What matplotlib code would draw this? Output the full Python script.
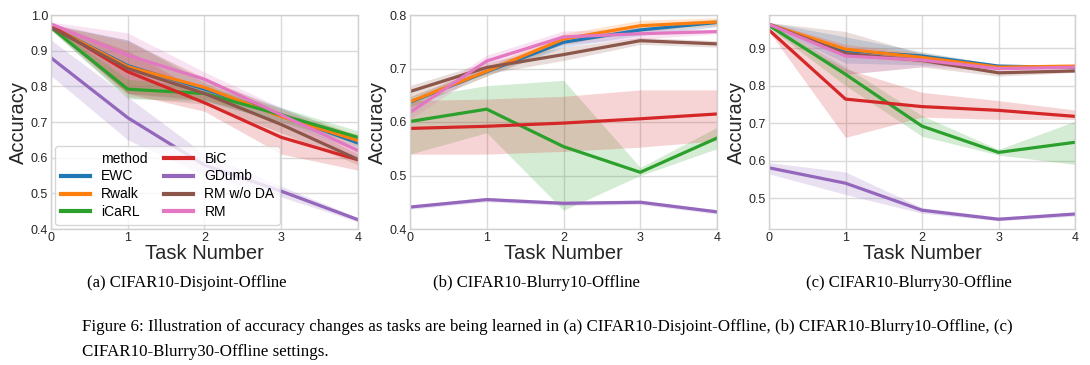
import matplotlib
matplotlib.use("Agg")
import matplotlib.pyplot as plt
from matplotlib.lines import Line2D
import numpy as np

tasks = [0, 1, 2, 3, 4]
methods = ["EWC", "Rwalk", "iCaRL", "BiC", "GDumb", "RM w/o DA", "RM"]
colors = ["#1f77b4", "#ff7f0e", "#2ca02c", "#d62728", "#9467bd", "#8c564b", "#e377c2"]

# (a) CIFAR10-Disjoint-Offline : mean, lower, upper per method
a_mean = {
    "EWC":       [0.968, 0.858, 0.792, 0.720, 0.641],
    "Rwalk":     [0.968, 0.855, 0.797, 0.715, 0.648],
    "iCaRL":     [0.965, 0.792, 0.780, 0.720, 0.657],
    "BiC":       [0.970, 0.841, 0.754, 0.657, 0.594],
    "GDumb":     [0.880, 0.712, 0.579, 0.506, 0.426],
    "RM w/o DA": [0.965, 0.850, 0.780, 0.693, 0.595],
    "RM":        [0.975, 0.887, 0.820, 0.720, 0.620],
}
a_low = {
    "EWC":       [0.962, 0.780, 0.760, 0.700, 0.620],
    "Rwalk":     [0.962, 0.780, 0.765, 0.700, 0.630],
    "iCaRL":     [0.958, 0.765, 0.760, 0.700, 0.640],
    "BiC":       [0.965, 0.780, 0.730, 0.610, 0.565],
    "GDumb":     [0.830, 0.650, 0.550, 0.490, 0.420],
    "RM w/o DA": [0.958, 0.770, 0.750, 0.670, 0.580],
    "RM":        [0.970, 0.820, 0.790, 0.700, 0.600],
}
a_high = {
    "EWC":       [0.975, 0.930, 0.820, 0.740, 0.660],
    "Rwalk":     [0.975, 0.925, 0.825, 0.735, 0.665],
    "iCaRL":     [0.972, 0.820, 0.800, 0.740, 0.675],
    "BiC":       [0.976, 0.900, 0.780, 0.700, 0.625],
    "GDumb":     [0.930, 0.770, 0.610, 0.520, 0.432],
    "RM w/o DA": [0.972, 0.930, 0.810, 0.720, 0.610],
    "RM":        [0.980, 0.950, 0.840, 0.740, 0.640],
}

# (b) CIFAR10-Blurry10-Offline
b_mean = {
    "EWC":       [0.637, 0.694, 0.749, 0.772, 0.786],
    "Rwalk":     [0.638, 0.695, 0.755, 0.780, 0.787],
    "iCaRL":     [0.601, 0.624, 0.554, 0.506, 0.570],
    "BiC":       [0.588, 0.592, 0.598, 0.606, 0.615],
    "GDumb":     [0.441, 0.455, 0.448, 0.450, 0.432],
    "RM w/o DA": [0.657, 0.702, 0.726, 0.752, 0.746],
    "RM":        [0.618, 0.714, 0.759, 0.765, 0.769],
}
b_low = {
    "EWC":       [0.627, 0.686, 0.740, 0.762, 0.778],
    "Rwalk":     [0.628, 0.686, 0.745, 0.770, 0.780],
    "iCaRL":     [0.540, 0.580, 0.435, 0.500, 0.550],
    "BiC":       [0.540, 0.540, 0.545, 0.553, 0.565],
    "GDumb":     [0.437, 0.451, 0.444, 0.446, 0.428],
    "RM w/o DA": [0.645, 0.690, 0.715, 0.745, 0.740],
    "RM":        [0.605, 0.700, 0.745, 0.755, 0.765],
}
b_high = {
    "EWC":       [0.647, 0.702, 0.758, 0.782, 0.792],
    "Rwalk":     [0.648, 0.704, 0.765, 0.790, 0.795],
    "iCaRL":     [0.645, 0.668, 0.678, 0.515, 0.590],
    "BiC":       [0.640, 0.643, 0.648, 0.660, 0.660],
    "GDumb":     [0.445, 0.459, 0.452, 0.454, 0.436],
    "RM w/o DA": [0.668, 0.712, 0.740, 0.758, 0.752],
    "RM":        [0.630, 0.725, 0.770, 0.775, 0.773],
}

# (c) CIFAR10-Blurry30-Offline
c_mean = {
    "EWC":       [0.963, 0.893, 0.879, 0.852, 0.848],
    "Rwalk":     [0.963, 0.897, 0.875, 0.849, 0.852],
    "iCaRL":     [0.960, 0.830, 0.692, 0.622, 0.649],
    "BiC":       [0.948, 0.764, 0.744, 0.734, 0.718],
    "GDumb":     [0.581, 0.540, 0.468, 0.444, 0.458],
    "RM w/o DA": [0.963, 0.885, 0.867, 0.834, 0.839],
    "RM":        [0.963, 0.879, 0.868, 0.845, 0.849],
}
c_low = {
    "EWC":       [0.958, 0.860, 0.855, 0.845, 0.845],
    "Rwalk":     [0.958, 0.880, 0.860, 0.843, 0.848],
    "iCaRL":     [0.955, 0.800, 0.665, 0.615, 0.590],
    "BiC":       [0.944, 0.662, 0.716, 0.710, 0.710],
    "GDumb":     [0.565, 0.510, 0.460, 0.440, 0.452],
    "RM w/o DA": [0.958, 0.830, 0.850, 0.825, 0.835],
    "RM":        [0.958, 0.830, 0.850, 0.838, 0.845],
}
c_high = {
    "EWC":       [0.968, 0.930, 0.890, 0.856, 0.852],
    "Rwalk":     [0.968, 0.910, 0.888, 0.855, 0.856],
    "iCaRL":     [0.965, 0.850, 0.720, 0.630, 0.705],
    "BiC":       [0.952, 0.845, 0.782, 0.760, 0.735],
    "GDumb":     [0.595, 0.570, 0.475, 0.450, 0.462],
    "RM w/o DA": [0.968, 0.944, 0.885, 0.840, 0.845],
    "RM":        [0.968, 0.910, 0.880, 0.850, 0.853],
}

a_yticks = [0.4, 0.5, 0.6, 0.7, 0.8, 0.9, 1.0]
b_yticks = [0.4, 0.5, 0.6, 0.7, 0.8]
c_yticks = [0.5, 0.6, 0.7, 0.8, 0.9]

panels = [
    (a_mean, a_low, a_high, (0.4, 1.0), a_yticks, "(a) CIFAR10-Disjoint-Offline"),
    (b_mean, b_low, b_high, (0.4, 0.8), b_yticks, "(b) CIFAR10-Blurry10-Offline"),
    (c_mean, c_low, c_high, (0.418, 0.988), c_yticks, "(c) CIFAR10-Blurry30-Offline"),
]
ax_boxes = [(51, 358), (410, 717), (769, 1075)]
caption_x = [187, 536, 909]

W, H = 1090, 365
fig = plt.figure(figsize=(W / 100, H / 100), dpi=100)
sans = "Liberation Sans"
serif = "Liberation Serif"

for (mean, low, high, ylim, yticks, caption), (x0, x1), cx in zip(panels, ax_boxes, caption_x):
    top, bottom = 15, 229
    ax = fig.add_axes([x0 / W, 1 - bottom / H, (x1 - x0) / W, (bottom - top) / H])
    for m, c in zip(methods, colors):
        ax.fill_between(tasks, low[m], high[m], color=c, alpha=0.2, linewidth=0)
        ax.plot(tasks, mean[m], color=c, lw=2.3, label=m)
    ax.set_xlim(0, 4)
    ax.set_ylim(*ylim)
    ax.set_xticks(tasks)
    ax.set_yticks(yticks)
    ax.set_yticklabels([f"{v:.1f}" for v in yticks])
    ax.grid(True, color="#d9d9d9", lw=1.0)
    ax.set_axisbelow(True)
    for s in ax.spines.values():
        s.set_color("#d0d0d0")
        s.set_linewidth(1.0)
    ax.tick_params(length=0, pad=2, labelsize=9, labelcolor="#262626")
    for lbl in ax.get_xticklabels() + ax.get_yticklabels():
        lbl.set_family(sans)
    ax.set_xlabel("Task Number", fontsize=14.5, family=sans, color="#262626", labelpad=0)
    ax.set_ylabel("Accuracy", fontsize=14.5, family=sans, color="#262626", labelpad=2)
    fig.text(cx / W, 1 - 283 / H, caption, ha="center", va="center",
             fontsize=12, family=serif)
    if caption.startswith("(a)"):
        handles = [Line2D([], [], color="none")]
        labels = ["method"]
        for m, c in zip(methods, colors):
            handles.append(Line2D([], [], color=c, lw=3))
            labels.append(m)
        leg = ax.legend(handles, labels, ncol=2, loc="lower left",
                        prop={"family": sans, "size": 10}, frameon=True,
                        borderaxespad=0.3, handlelength=2.1, columnspacing=1.2,
                        labelspacing=0.28, fancybox=True, borderpad=0.4)
        leg.get_frame().set_edgecolor("#cccccc")

fig.text(82 / W, 1 - 327 / H,
         "Figure 6: Illustration of accuracy changes as tasks are being learned in (a) CIFAR10-Disjoint-Offline, "
         "(b) CIFAR10-Blurry10-Offline, (c)",
         ha="left", va="center", fontsize=12.15, family=serif)
fig.text(82 / W, 1 - 352 / H, "CIFAR10-Blurry30-Offline settings.",
         ha="left", va="center", fontsize=12.15, family=serif)

fig.savefig("out.png", dpi=100)
